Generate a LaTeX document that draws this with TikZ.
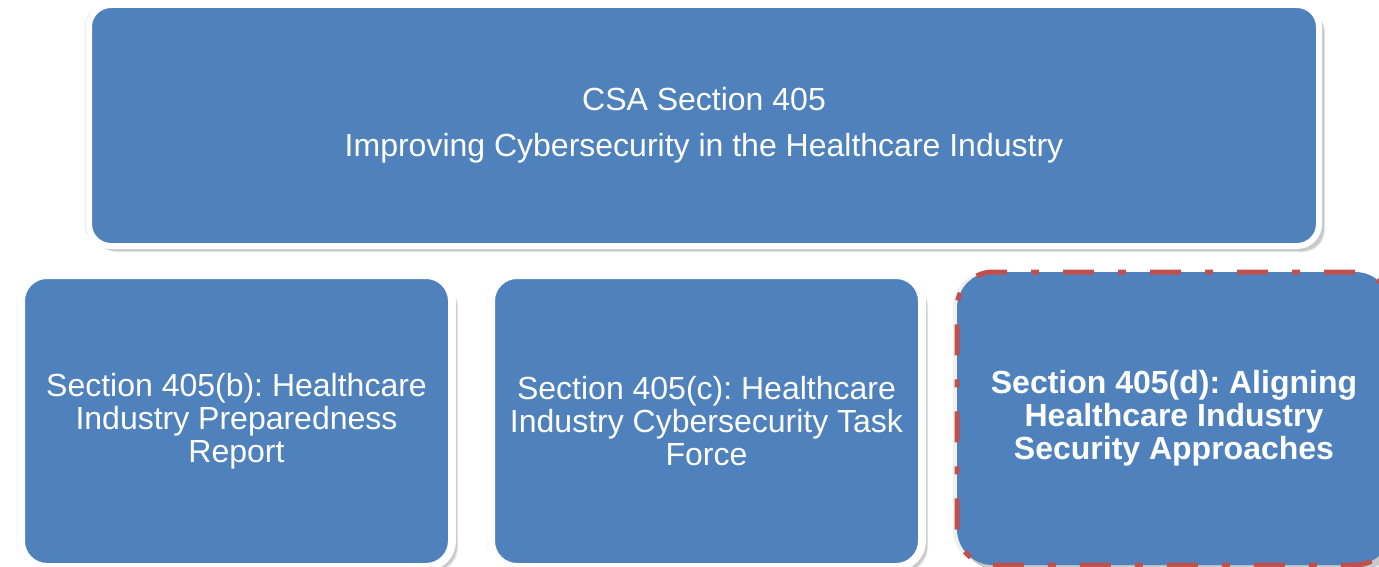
\documentclass[tikz,border=0pt]{standalone}
\usepackage{fontspec}
\setmainfont{Liberation Sans}
\frenchspacing
\usetikzlibrary{shadows}
\definecolor{boxblue}{HTML}{4F81BD}
\definecolor{boxred}{HTML}{C0504D}
\tikzset{
  softshadow/.style={
    general shadow={shadow xshift=6pt, shadow yshift=-6pt, opacity=0.10, fill=black},
    general shadow={shadow xshift=5pt, shadow yshift=-5pt, opacity=0.12, fill=black},
    general shadow={shadow xshift=-4.5pt, shadow yshift=0pt, opacity=0.06, fill=black}},
  panel/.style={draw=white, fill=boxblue, inner sep=0pt, outer sep=0pt,
    text=white, align=center, font=\fontsize{32}{33}\selectfont, softshadow},
  toppanel/.style={panel, line width=6pt, rounded corners=22pt,
    minimum width=1230pt, minimum height=241pt},
  subpanel/.style={panel, line width=8pt, rounded corners=26pt,
    minimum width=431pt, minimum height=292pt},
  focuspanel/.style={panel, draw=boxred, line width=5pt, rounded corners=36pt,
    dash pattern=on 31pt off 24pt on 8pt off 24pt,
    minimum width=434pt, minimum height=293pt, font=\fontsize{32}{33}\selectfont\bfseries}
}
\begin{document}
\begin{tikzpicture}[x=1pt, y=-1pt]
\useasboundingbox[fill=white] (0,0) rectangle (1379,567);
\node[toppanel] (top) at (704,125.5) {CSA Section 405\\[13pt]Improving Cybersecurity in the Healthcare Industry};
\node[subpanel] (b) at (236.5,421) {Section 405(b): Healthcare\\Industry Preparedness\\Report};
\node[subpanel] (c) at (706.5,421) {Section 405(c): Healthcare\\Industry Cybersecurity Task\\Force};
\node[focuspanel] (d) at (1174,418.5) {Section 405(d): Aligning\\Healthcare Industry\\Security Approaches};
\end{tikzpicture}
\end{document}
